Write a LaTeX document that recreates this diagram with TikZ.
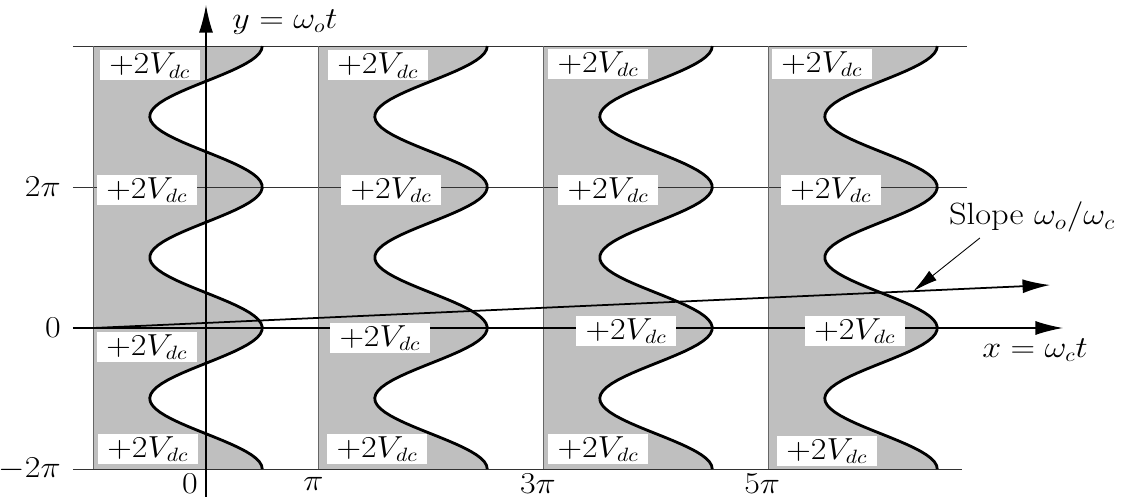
\documentclass[tikz,border=0pt]{standalone}
\usepackage{graphicx}
\usetikzlibrary{arrows.meta}
\newcommand{\wtext}[1]{\scalebox{1.12}[1]{#1}}

\begin{document}
\begin{tikzpicture}[x=0.7162cm,y=0.4488cm,
    every node/.style={font=\fontsize{16}{18}\selectfont},
    vbox/.style={fill=white,inner sep=0pt,minimum width=2cm,minimum height=0.6cm},
    tick/.style={inner sep=1pt},
    wave/.style={line width=1.6pt},
    edge/.style={black!60,line width=0.8pt},
    grid/.style={black!80,line width=0.5pt},
    axis/.style={line width=0.8pt,-{Latex[length=5.5mm,width=2.8mm]}}]
    \useasboundingbox (-4.12cm,-3.4cm) rectangle (18.46cm,6.56cm);
    \coordinate (xs) at (-3.714,0);
    \coordinate (xe) at (23.93,0);
    \coordinate (ys) at (0,-7.53);
    \coordinate (ye) at (0,14.39);
    \coordinate (ss) at ({-pi},0);
    \coordinate (se) at (23.57,1.916);
    \coordinate (sa) at (21.61,4.01);
    \path (ss) -- (se) coordinate[pos=0.857] (sp);

    % shaded strips
    \fill[black!25] ({-pi},{-2*pi}) -- ({-pi},{4*pi}) -- plot[domain=4*pi:-2*pi,samples=120] ({pi/2*cos(\x r)},\x) -- cycle;
    \fill[black!25] ({pi},{-2*pi}) -- ({pi},{4*pi}) -- plot[domain=4*pi:-2*pi,samples=120] ({2*pi+pi/2*cos(\x r)},\x) -- cycle;
    \fill[black!25] ({3*pi},{-2*pi}) -- ({3*pi},{4*pi}) -- plot[domain=4*pi:-2*pi,samples=120] ({4*pi+pi/2*cos(\x r)},\x) -- cycle;
    \fill[black!25] ({5*pi},{-2*pi}) -- ({5*pi},{4*pi}) -- plot[domain=4*pi:-2*pi,samples=120] ({6*pi+pi/2*cos(\x r)},\x) -- cycle;

    % grid lines
    \draw[grid] (-3.714,{4*pi}) -- (21.25,{4*pi});
    \draw[grid] (-3.714,{2*pi}) -- (21.25,{2*pi});
    \draw[grid] (-3.714,{-2*pi}) -- (21.1,{-2*pi});
    \draw[edge] ({-pi},{-2*pi}) -- ({-pi},{4*pi});
    \draw[edge] ({pi},{-2*pi}) -- ({pi},{4*pi});
    \draw[edge] ({3*pi},{-2*pi}) -- ({3*pi},{4*pi});
    \draw[edge] ({5*pi},{-2*pi}) -- ({5*pi},{4*pi});

    % curves
    \draw[wave] plot[domain=-2*pi:4*pi,samples=120] ({pi/2*cos(\x r)},\x);
    \draw[wave] plot[domain=-2*pi:4*pi,samples=120] ({2*pi+pi/2*cos(\x r)},\x);
    \draw[wave] plot[domain=-2*pi:4*pi,samples=120] ({4*pi+pi/2*cos(\x r)},\x);
    \draw[wave] plot[domain=-2*pi:4*pi,samples=120] ({6*pi+pi/2*cos(\x r)},\x);

    % axes and slope
    \draw[axis] (xs) -- (xe);
    \draw[axis] (ys) -- (ye);
    \draw[axis,line width=1pt] (ss) -- (se);
    \draw[line width=0.5pt,-{Latex[length=5mm,width=2.4mm]}] (sa) -- (sp);

    % +2Vdc boxes
    \node[vbox] (t1) at (-1.57,11.7) {\wtext{$+2V_{dc}$}};
    \node[vbox] (m1) at (-1.65,6.15) {\wtext{$+2V_{dc}$}};
    \node[vbox] (z1) at (-1.65,-0.85) {\wtext{$+2V_{dc}$}};
    \node[vbox] (b1) at (-1.62,-5.4) {\wtext{$+2V_{dc}$}};
    \node[vbox] (t2) at (4.80,11.7) {\wtext{$+2V_{dc}$}};
    \node[vbox] (m2) at (5.17,6.15) {\wtext{$+2V_{dc}$}};
    \node[vbox] (z2) at (4.86,-0.45) {\wtext{$+2V_{dc}$}};
    \node[vbox] (b2) at (4.78,-5.4) {\wtext{$+2V_{dc}$}};
    \node[vbox] (t3) at (10.95,11.75) {\wtext{$+2V_{dc}$}};
    \node[vbox] (m3) at (11.23,6.15) {\wtext{$+2V_{dc}$}};
    \node[vbox] (z3) at (11.73,-0.13) {\wtext{$+2V_{dc}$}};
    \node[vbox] (b3) at (10.95,-5.4) {\wtext{$+2V_{dc}$}};
    \node[vbox] (t4) at (17.20,11.75) {\wtext{$+2V_{dc}$}};
    \node[vbox] (m4) at (17.45,6.15) {\wtext{$+2V_{dc}$}};
    \node[vbox] (z4) at (18.12,-0.13) {\wtext{$+2V_{dc}$}};
    \node[vbox] (b4) at (17.34,-5.48) {\wtext{$+2V_{dc}$}};

    % axis labels
    \node (lx) at (23.15,-0.98) {\wtext{$x=\omega_c t$}};
    \node (ly) at (2.206,13.64) {\wtext{$y=\omega_o t$}};
    \node (slope) at (23.07,4.95) {\wtext{\fontsize{17.5}{20}\selectfont Slope $\omega_o/\omega_c$}};
    \node[tick,anchor=east] (y2) at (-4.0,{2*pi}) {\wtext{$2\pi$}};
    \node[tick,anchor=east] (y0) at (-4.0,0) {\wtext{$0$}};
    \node[tick,anchor=east] (ym2) at (-4.0,{-2*pi}) {\wtext{$-2\pi$}};
    \node[tick] (x0) at (-0.45,-6.95) {\wtext{$0$}};
    \node[tick] (x1) at (3.0,-6.95) {\wtext{$\pi$}};
    \node[tick] (x3) at (9.27,-6.95) {\wtext{$3\pi$}};
    \node[tick] (x5) at (15.53,-6.95) {\wtext{$5\pi$}};
\end{tikzpicture}
\end{document}
